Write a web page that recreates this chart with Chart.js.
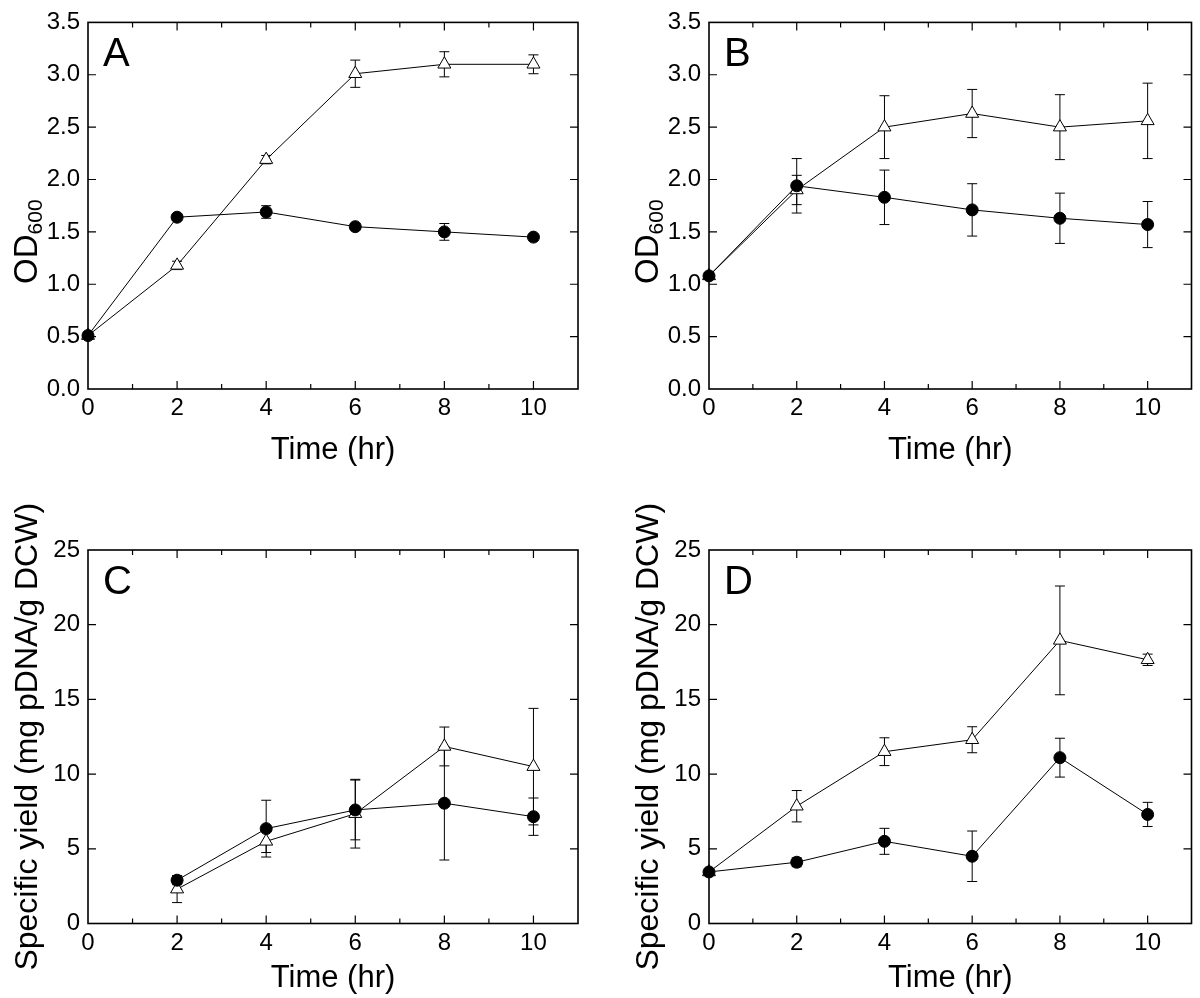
<!DOCTYPE html>
<html>
<head>
<meta charset="utf-8">
<script src="https://cdn.jsdelivr.net/npm/chart.js@4.4.1/dist/chart.umd.min.js"></script>
<style>
  html, body { margin: 0; padding: 0; background: #fff; }
  #wrap { position: relative; width: 1200px; height: 998px; }
  canvas { position: absolute; }
</style>
</head>
<body>
<div id="wrap">
  <canvas id="chartA" width="600" height="470" style="left:0;top:0"></canvas>
  <canvas id="chartB" width="579" height="470" style="left:621px;top:0"></canvas>
  <canvas id="chartC" width="600" height="528" style="left:0;top:470px"></canvas>
  <canvas id="chartD" width="579" height="528" style="left:621px;top:470px"></canvas>
</div>
<script>
// time points (hr)
const hours = [0, 2, 4, 6, 8, 10];
const hoursC = [2, 4, 6, 8, 10];

// panel A - OD600
const odACircle = [0.51, 1.64, 1.69, 1.55, 1.50, 1.45];
const odACircleErr = [0.02, 0.03, 0.06, 0.03, 0.08, 0.03];
const odATri = [0.51, 1.18, 2.19, 3.01, 3.10, 3.10];
const odATriErr = [0.02, 0.04, 0.04, 0.13, 0.12, 0.09];

// panel B - OD600
const odBCircle = [1.08, 1.94, 1.83, 1.71, 1.63, 1.57];
const odBCircleErr = [0.03, 0.26, 0.26, 0.25, 0.24, 0.22];
const odBTri = [1.08, 1.90, 2.50, 2.63, 2.50, 2.56];
const odBTriErr = [0.03, 0.14, 0.30, 0.23, 0.31, 0.36];

// panel C - specific yield
const yieldCCircle = [2.9, 6.35, 7.6, 8.05, 7.15];
const yieldCCircleErr = [0.3, 1.9, 2.0, 3.8, 1.25];
const yieldCTri = [2.3, 5.5, 7.35, 11.85, 10.5];
const yieldCTriErr = [0.9, 0.75, 2.3, 1.3, 3.9];

// panel D - specific yield
const yieldDCircle = [3.45, 4.1, 5.5, 4.5, 11.1, 7.3];
const yieldDCircleErr = [0.1, 0.3, 0.87, 1.69, 1.3, 0.81];
const yieldDTri = [3.45, 7.85, 11.5, 12.3, 18.95, 17.65];
const yieldDTriErr = [0.1, 1.05, 0.93, 0.87, 3.64, 0.38];

const FONT = '"Liberation Sans", Arial, Helvetica, sans-serif';
Chart.defaults.font.family = FONT;
Chart.defaults.color = '#000';

// vertical error bars with caps, drawn under the markers
const errorBars = {
  id: 'errorBars',
  beforeDatasetsDraw(chart) {
    const {ctx, scales: {y}} = chart;
    ctx.save();
    ctx.strokeStyle = '#000';
    ctx.lineWidth = 1;
    chart.data.datasets.forEach((ds, i) => {
      if (!ds.errors) return;
      chart.getDatasetMeta(i).data.forEach((pt, j) => {
        const v = ds.data[j].y, e = ds.errors[j];
        const top = y.getPixelForValue(v + e);
        const bot = y.getPixelForValue(v - e);
        ctx.beginPath();
        ctx.moveTo(pt.x, top); ctx.lineTo(pt.x, bot);
        ctx.moveTo(pt.x - 5, top); ctx.lineTo(pt.x + 5, top);
        ctx.moveTo(pt.x - 5, bot); ctx.lineTo(pt.x + 5, bot);
        ctx.stroke();
      });
    });
    ctx.restore();
  }
};

// box frame and inward ticks on all four sides
const frameTicks = {
  id: 'frameTicks',
  afterDraw(chart) {
    const {ctx, chartArea: a, scales: {x, y}} = chart;
    ctx.save();
    ctx.strokeStyle = '#000';
    ctx.lineWidth = 1.6;
    ctx.strokeRect(a.left, a.top, a.right - a.left, a.bottom - a.top);
    ctx.lineWidth = 1.2;
    ctx.beginPath();
    for (let v = 1; v < x.max; v++) {
      const px = x.getPixelForValue(v);
      const len = v % 2 === 0 ? 8 : 5;
      ctx.moveTo(px, a.bottom); ctx.lineTo(px, a.bottom - len);
      ctx.moveTo(px, a.top); ctx.lineTo(px, a.top + len);
    }
    y.ticks.forEach(t => {
      if (t.value <= y.min || t.value >= y.max) return;
      const py = y.getPixelForValue(t.value);
      ctx.moveTo(a.left, py); ctx.lineTo(a.left + 8, py);
      ctx.moveTo(a.right, py); ctx.lineTo(a.right - 8, py);
    });
    ctx.stroke();
    ctx.restore();
  }
};

// panel letter and the OD600 axis title with its subscript
const panelText = {
  id: 'panelText',
  afterDraw(chart, args, opts) {
    const {ctx, chartArea: a} = chart;
    ctx.save();
    ctx.fillStyle = '#000';
    ctx.textBaseline = 'alphabetic';
    ctx.textAlign = 'left';
    ctx.font = '40px ' + FONT;
    ctx.fillText(opts.letter, a.left + 15, a.top + 44);
    if (opts.odTitle) {
      ctx.font = '33px ' + FONT;
      const w1 = ctx.measureText('OD').width;
      ctx.font = '21px ' + FONT;
      const w2 = ctx.measureText('600').width;
      ctx.translate(37, (a.top + a.bottom) / 2 + 36);
      ctx.rotate(-Math.PI / 2);
      const start = -(w1 + w2) / 2;
      ctx.font = '33px ' + FONT;
      ctx.fillText('OD', start, 0);
      ctx.font = '21px ' + FONT;
      ctx.fillText('600', start + w1, 5);
    }
    ctx.restore();
  }
};

function pts(xs, ys) {
  return xs.map((x, i) => ({x: x, y: ys[i]}));
}

function makePanel(id, cfg) {
  const circles = {
    label: 'filled', data: pts(cfg.x, cfg.circle), errors: cfg.circleErr,
    showLine: true, borderColor: '#000', borderWidth: 1, clip: false,
    pointStyle: 'circle', pointRadius: 6,
    pointBackgroundColor: '#000', pointBorderColor: '#000', pointBorderWidth: 1
  };
  const triangles = {
    label: 'open', data: pts(cfg.x, cfg.tri), errors: cfg.triErr,
    showLine: true, borderColor: '#000', borderWidth: 1, clip: false,
    pointStyle: 'triangle', pointRadius: 7.5,
    pointBackgroundColor: '#fff', pointBorderColor: '#000', pointBorderWidth: 1
  };
  return new Chart(document.getElementById(id), {
    type: 'scatter',
    data: {datasets: [circles, triangles]},
    options: {
      responsive: false,
      animation: false,
      devicePixelRatio: 1,
      layout: {padding: {top: cfg.padTop, right: cfg.padRight, left: 0, bottom: 0}},
      plugins: {
        legend: {display: false},
        tooltip: {enabled: false},
        panelText: {letter: cfg.letter, odTitle: cfg.odTitle}
      },
      scales: {
        x: {
          type: 'linear', min: 0, max: 11,
          grid: {display: false, drawTicks: false},
          border: {display: false},
          ticks: {stepSize: 2, includeBounds: false, autoSkip: false, maxRotation: 0,
                  padding: 5, font: {size: 24}, color: '#000'},
          title: {display: true, text: 'Time (hr)', font: {size: 31}, color: '#000',
                  padding: {top: 0, bottom: cfg.xTitlePad}},
          afterFit: s => { s.height = cfg.xHeight; }
        },
        y: {
          type: 'linear', min: 0, max: cfg.yMax,
          grid: {display: false, drawTicks: false},
          border: {display: false},
          ticks: {stepSize: cfg.yStep, includeBounds: false, padding: 8, font: {size: 24}, color: '#000',
                  callback: v => cfg.yDecimals ? v.toFixed(cfg.yDecimals) : String(v)},
          title: {display: !!cfg.yTitle, text: cfg.yTitle || '', font: {size: 32}, color: '#000',
                  padding: {top: 9, bottom: 0}},
          afterFit: s => { s.width = 88; }
        }
      }
    },
    plugins: [errorBars, frameTicks, panelText]
  });
}

const odOpts = {yMax: 3.5, yStep: 0.5, yDecimals: 1, odTitle: true, padTop: 14.7, xHeight: 81, xTitlePad: 1};
const yieldOpts = {yMax: 25, yStep: 5, yDecimals: 0, yTitle: 'Specific yield (mg pDNA/g DCW)',
                   padTop: 80, xHeight: 74.5, xTitlePad: 1};

makePanel('chartA', Object.assign({}, odOpts, {letter: 'A', padRight: 22, x: hours,
  circle: odACircle, circleErr: odACircleErr, tri: odATri, triErr: odATriErr}));
makePanel('chartB', Object.assign({}, odOpts, {letter: 'B', padRight: 2, x: hours,
  circle: odBCircle, circleErr: odBCircleErr, tri: odBTri, triErr: odBTriErr}));
makePanel('chartC', Object.assign({}, yieldOpts, {letter: 'C', padRight: 22, x: hoursC,
  circle: yieldCCircle, circleErr: yieldCCircleErr, tri: yieldCTri, triErr: yieldCTriErr}));
makePanel('chartD', Object.assign({}, yieldOpts, {letter: 'D', padRight: 2, x: hours,
  circle: yieldDCircle, circleErr: yieldDCircleErr, tri: yieldDTri, triErr: yieldDTriErr}));
</script>
</body>
</html>
